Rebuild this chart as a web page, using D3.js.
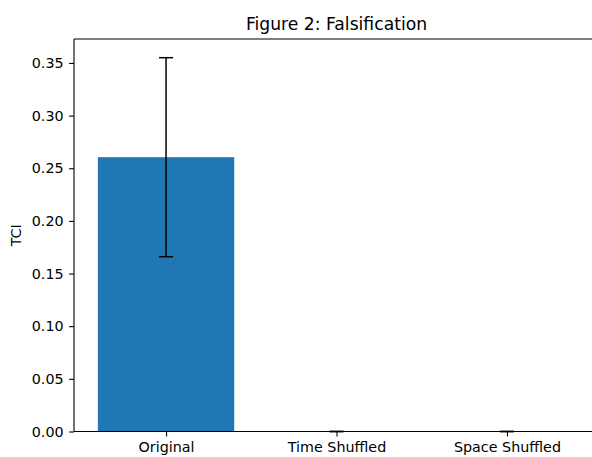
<!DOCTYPE html>
<html>
<head>
<meta charset="utf-8">
<script src="https://cdn.jsdelivr.net/npm/d3@7"></script>
<style>
  body { margin: 0; background: #fff; overflow: hidden; }
  svg { display: block; font-family: "DejaVu Sans", sans-serif; }
</style>
</head>
<body>
<svg id="chart" width="592" height="457"></svg>
<script>
// data
const categories = ["Original", "Time Shuffled", "Space Shuffled"];
const tciValues = [0.2605, 0, 0];
const tciErrors = [0.0945, 0, 0];
const yTicks = [0, 0.05, 0.10, 0.15, 0.20, 0.25, 0.30, 0.35];

const margin = { left: 74, top: 39, bottom: 25.5 };
const plotW = 525; // right spine falls outside the 592px picture
const plotH = 457 - margin.top - margin.bottom;

const svg = d3.select("#chart");
const g = svg.append("g").attr("transform", "translate(" + margin.left + "," + margin.top + ")");

// matplotlib style limits: bars of width 0.8, 5% padding
const x = d3.scaleLinear().domain([-0.54, 2.54]).range([0, plotW]);
const yMax = d3.max(tciValues.map((v, i) => v + tciErrors[i])) * 1.05;
const y = d3.scaleLinear().domain([0, yMax]).range([plotH, 0]);

// bars
g.selectAll("rect.bar")
  .data(tciValues)
  .enter()
  .append("rect")
  .attr("class", "bar")
  .attr("x", (d, i) => x(i - 0.4))
  .attr("width", x(0.8) - x(0))
  .attr("y", d => y(d))
  .attr("height", d => y(0) - y(d))
  .attr("fill", "#1f77b4");

// error bars
const err = g.append("g");
tciValues.forEach((v, i) => {
  const cx = x(i);
  err.append("line")
    .attr("x1", cx).attr("x2", cx)
    .attr("y1", y(v - tciErrors[i])).attr("y2", y(v + tciErrors[i]))
    .attr("stroke", "#000").attr("stroke-width", 1.5);
  [v - tciErrors[i], v + tciErrors[i]].forEach(e => {
    err.append("line")
      .attr("x1", cx - 7).attr("x2", cx + 7)
      .attr("y1", y(e)).attr("y2", y(e))
      .attr("stroke", "#000").attr("stroke-width", 1.5);
  });
});

// axes
const xAxis = g.append("g")
  .attr("transform", "translate(0," + plotH + ")")
  .call(d3.axisBottom(x).tickValues([0, 1, 2]).tickFormat(i => categories[i]).tickSize(4.9).tickPadding(5.8));
const yAxis = g.append("g")
  .call(d3.axisLeft(y).tickValues(yTicks).tickFormat(d3.format(".2f")).tickSize(4.9).tickPadding(5.5));

[xAxis, yAxis].forEach(a => {
  a.select(".domain").remove();
  a.selectAll("text").attr("font-size", 14.3).attr("fill", "#000").attr("font-family", "DejaVu Sans, sans-serif");
  a.selectAll("line").attr("stroke", "#000").attr("stroke-width", 1.1);
});

// spines: left, top, bottom
const spines = [
  [0, 0, 0, plotH],
  [0, 0, plotW, 0],
  [0, plotH, plotW, plotH]
];
g.selectAll("line.spine")
  .data(spines)
  .enter()
  .append("line")
  .attr("class", "spine")
  .attr("x1", d => d[0]).attr("y1", d => d[1])
  .attr("x2", d => d[2]).attr("y2", d => d[3])
  .attr("stroke", "#000").attr("stroke-width", 1.1);

// title and label
svg.append("text")
  .attr("x", margin.left + plotW / 2).attr("y", 30)
  .attr("text-anchor", "middle")
  .attr("font-size", 17.2)
  .text("Figure 2: Falsification");

svg.append("text")
  .attr("transform", "translate(21," + (margin.top + plotH / 2) + ") rotate(-90)")
  .attr("text-anchor", "middle")
  .attr("font-size", 14.3)
  .text("TCI");
</script>
</body>
</html>
